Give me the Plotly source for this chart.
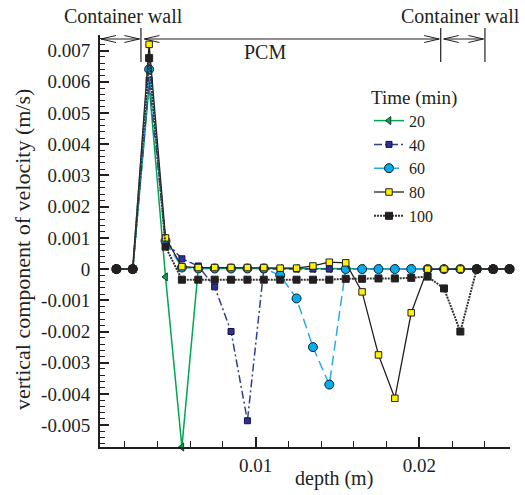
import plotly.graph_objects as go

# ---------------- data ----------------
depth = [0.0015, 0.0025, 0.0035, 0.0045, 0.0055, 0.0065, 0.0075, 0.0085, 0.0095,
         0.0105, 0.0115, 0.0125, 0.0135, 0.0145, 0.0155, 0.0165, 0.0175, 0.0185,
         0.0195, 0.0205, 0.0215, 0.0225, 0.0235, 0.0245, 0.0255]

v20 = [0, 0, 0.0059, -0.00025, -0.0057, 0.00002, 0.00002, 0.00002, 0.00002,
       0.00002, 0.00002, 0.00002, 0.00002, 0.00002, 0.00002, 0.00002, 0.00002, 0.00002,
       0.00002, 0, 0, 0, 0, 0, 0]
v40 = [0, 0, 0.00605, 0.0009, 0.00033, 0.0001, -0.00057, -0.0020, -0.00486,
       0, 0, 0, 0, 0, 0, 0, 0, 0,
       0, 0, 0, 0, 0, 0, 0]
v60 = [0, 0, 0.0064, 0.0009, 0.00005, 0.00002, 0.00002, 0.00002, 0.00002,
       0.00002, -0.0002, -0.00094, -0.0025, -0.0037, 0, 0, 0, 0,
       0, 0, 0, 0, 0, 0, 0]
v80 = [0, 0, 0.0072, 0.001, 0.00008, 0.00005, 0.00005, 0.00005, 0.00005,
       0.00005, 0.00003, 0.00003, 0.0001, 0.00022, 0.0002, -0.00073, -0.00275, -0.00414,
       -0.0014, 0, 0, 0, 0, 0, 0]
v100 = [0, 0, 0.00676, 0.00072, -0.00034, -0.00034, -0.00034, -0.00034, -0.00034,
        -0.00034, -0.00034, -0.00034, -0.00034, -0.00034, -0.00031, -0.00031, -0.0003, -0.0003,
        -0.00028, -0.00024, -0.00062, -0.002, 0, 0, 0]

wall_depth = [0.0015, 0.0025, 0.0235, 0.0245, 0.0255]
wall_v = [0, 0, 0, 0, 0]

series_names = ["20", "40", "60", "80", "100"]

y_tickvals = [0.007, 0.006, 0.005, 0.004, 0.003, 0.002, 0.001, 0,
              -0.001, -0.002, -0.003, -0.004, -0.005]
y_ticktext = ["0.007", "0.006", "0.005", "0.004", "0.003", "0.002", "0.001", "0",
              "-0.001", "-0.002", "-0.003", "-0.004", "-0.005"]
x_tickvals = [0.01, 0.02]
x_ticktext = ["0.01", "0.02"]

# region boundaries along depth: container wall | PCM | container wall
bounds = [0.0005, 0.003, 0.0213, 0.024]

# ---------------- layout geometry ----------------
W, H = 525, 495
ML, MR, MT, MB = 100, 15, 35, 48
XR = [0.0005, 0.02553]
YR = [-0.0057, 0.0075]
PW, PH = W - ML - MR, H - MT - MB

FONT = "Liberation Serif"
INK = "#231f20"


def px(xpix):
    return (xpix - ML) / PW


def py(ypix):
    return 1 - (ypix - MT) / PH


def dx(d):
    return ML + (d - XR[0]) / (XR[1] - XR[0]) * PW


fig = go.Figure()

fig.add_trace(go.Scatter(
    x=depth, y=v20, name=series_names[0], mode="lines+markers",
    line=dict(color="#00a651", width=1.5),
    marker=dict(symbol="triangle-left", size=7, color="#00a651",
                line=dict(color="#0b3d1e", width=1)),
    cliponaxis=False))
fig.add_trace(go.Scatter(
    x=depth, y=v40, name=series_names[1], mode="lines+markers",
    line=dict(color="#2e3f8f", width=1.5, dash="8px,3px,2px,3px"),
    marker=dict(symbol="square", size=6, color="#2e3192",
                line=dict(color="#10124a", width=1)),
    cliponaxis=False))
fig.add_trace(go.Scatter(
    x=depth, y=v60, name=series_names[2], mode="lines+markers",
    line=dict(color="#29abe2", width=1.5, dash="10px,5px"),
    marker=dict(symbol="circle", size=9, color="#00aeef",
                line=dict(color="#1a1a1a", width=1)),
    cliponaxis=False))
fig.add_trace(go.Scatter(
    x=depth, y=v80, name=series_names[3], mode="lines+markers",
    line=dict(color=INK, width=1.3),
    marker=dict(symbol="square", size=6.5, color="#fff200",
                line=dict(color=INK, width=1)),
    cliponaxis=False))
fig.add_trace(go.Scatter(
    x=depth, y=v100, name=series_names[4], mode="lines+markers",
    line=dict(color="#333333", width=2, dash="2px,1px"),
    marker=dict(symbol="square", size=7, color=INK,
                line=dict(color=INK, width=1)),
    cliponaxis=False))
fig.add_trace(go.Scatter(
    x=wall_depth, y=wall_v, mode="markers", showlegend=False, hoverinfo="skip",
    marker=dict(symbol="circle", size=9, color=INK, line=dict(color=INK, width=1)),
    cliponaxis=False))

# ---------------- dimension arrows at the top ----------------
shapes = []
ya = 39          # arrow line (pixels from top)
hl, hw = 15, 3.5  # arrow-head length / half width
segs = [(dx(bounds[0]) + 1, dx(bounds[1]) - 1.5),
        (dx(bounds[1]) + 3.5, dx(bounds[2]) - 1.5),
        (dx(bounds[2]) + 3, dx(bounds[3]) - 1.5)]
for a, b in segs:
    path = (f"M{px(a)},{py(ya)} L{px(b)},{py(ya)} "
            f"M{px(a + hl)},{py(ya - hw)} L{px(a)},{py(ya)} L{px(a + hl)},{py(ya + hw)} "
            f"M{px(b - hl)},{py(ya - hw)} L{px(b)},{py(ya)} L{px(b - hl)},{py(ya + hw)}")
    shapes.append(dict(type="path", xref="paper", yref="paper", path=path,
                       line=dict(color=INK, width=1)))
for d in bounds[1:]:
    xb = px(dx(d))
    shapes.append(dict(type="line", xref="paper", yref="paper",
                       x0=xb, x1=xb, y0=py(28), y1=py(62),
                       line=dict(color=INK, width=1.2)))


def label(text, xpix, ypix, size=20, angle=0):
    return dict(text=text, x=px(xpix), y=py(ypix), xref="paper", yref="paper",
                xanchor="center", yanchor="middle", textangle=angle,
                showarrow=False, font=dict(family=FONT, size=size, color=INK))


annotations = [
    label("Container wall", 123, 16),
    label("Container wall", 460, 16),
    label("PCM", 265, 52),
    label("depth (m)", 334, 478),
    label("vertical component of velocity (m/s)", 22, 250, size=22, angle=-90),
]

fig.update_layout(
    width=W, height=H,
    margin=dict(l=ML, r=MR, t=MT, b=MB, pad=0),
    paper_bgcolor="white", plot_bgcolor="white",
    font=dict(family=FONT, size=19, color=INK),
    shapes=shapes, annotations=annotations,
    legend=dict(x=px(369), y=py(79), xanchor="left", yanchor="top",
                bgcolor="rgba(0,0,0,0)", font=dict(family=FONT, size=16, color=INK),
                title=dict(text="Time (min)", font=dict(family=FONT, size=19, color=INK)),
                tracegroupgap=0, itemwidth=30),
    xaxis=dict(range=XR, showline=True, linecolor=INK, linewidth=2,
               showgrid=False, zeroline=False, ticks="inside", ticklen=10,
               tickwidth=1.5, tickcolor=INK, tickmode="array",
               tickvals=x_tickvals, ticktext=x_ticktext,
               minor=dict(dtick=0.002, tick0=0, ticks="inside", ticklen=6,
                          tickwidth=1.2, tickcolor=INK, showgrid=False),
               tickfont=dict(family=FONT, size=19, color=INK)),
    yaxis=dict(range=YR, showline=True, linecolor=INK, linewidth=2,
               showgrid=False, zeroline=False, ticks="inside", ticklen=9,
               tickwidth=1.5, tickcolor=INK, tickmode="array",
               tickvals=y_tickvals, ticktext=y_ticktext, ticklabelstandoff=4,
               minor=dict(dtick=0.0002, tick0=0, ticks="inside", ticklen=5,
                          tickwidth=1.1, tickcolor=INK, showgrid=False),
               tickfont=dict(family=FONT, size=19, color=INK)),
)

fig.write_html("out.html")
